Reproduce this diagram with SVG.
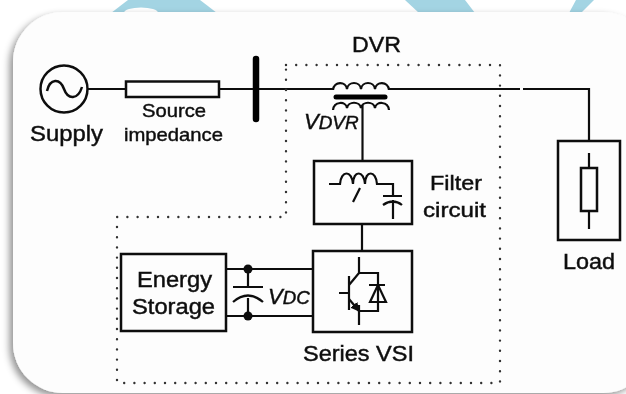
<svg xmlns="http://www.w3.org/2000/svg" width="626" height="394" viewBox="0 0 626 394">
<defs>
<filter id="shadow" x="-5%" y="-5%" width="110%" height="110%"><feDropShadow dx="-3.500" dy="3.500" stdDeviation="3.500" flood-color="#000" flood-opacity="0.42"/></filter>
<filter id="soft" x="-2%" y="-2%" width="104%" height="104%"><feGaussianBlur stdDeviation="0.5"/></filter>
<marker id="emit" viewBox="0 0 10 10" refX="9" refY="5" markerWidth="9" markerHeight="9" markerUnits="userSpaceOnUse" orient="auto"><path d="M0 0L10 5L0 10Z" fill="#111"/></marker>
</defs>
<style>
.w{fill:none;stroke:#111;stroke-width:2.200}
.b{fill:none;stroke:#111;stroke-width:2.500}
.d{fill:none;stroke:#333;stroke-width:2.400;stroke-linecap:round;stroke-dasharray:0 10.2}
text{font-family:"Liberation Sans",Arial,sans-serif;fill:#111;stroke:#111;stroke-width:0.45}
.i{font-style:italic}
</style>
<rect width="626" height="394" fill="#fff"/>
<g id="background" fill="#a3d4e3">
<path d="M128 0H200L217 13H111Z"/>
<path d="M405 0H465L475 13H419Z"/>
<path d="M576 0H594L581 13H569Z"/>
</g>
<ellipse cx="141" cy="13" rx="17" ry="5.500" fill="#fff"/>
<rect id="card" x="13" y="12" width="640" height="381" rx="50" fill="#fdfdfd" filter="url(#shadow)"/>
<g filter="url(#soft)">
<g id="connectors">
<path class="w" d="M88 89H126M219 89H333M389 89H520M523 89H589V141"/>
<path class="w" d="M362.500 105V161M362 224V251"/>
<path class="w" d="M226 269H313M226 316H313"/>
<path class="w" d="M248 269V287M248 298V316"/>
<path class="d" d="M286 65H500V383H117V217H286Z"/>
</g>
<g id="supply">
<circle class="b" cx="64" cy="89" r="23.500"/>
<path class="b" d="M47 91C50 78 60 78 64 89C68 100 78 100 82 87"/>
<text x="30" y="141" textLength="73" lengthAdjust="spacingAndGlyphs" style="font-size:22px">Supply</text>
</g>
<g id="source-impedance">
<rect class="b" x="126" y="81.500" width="93" height="15.500" fill="#fff"/>
<text x="142" y="117" textLength="64" lengthAdjust="spacingAndGlyphs" style="font-size:19px">Source</text>
<text x="124" y="141" textLength="99" lengthAdjust="spacingAndGlyphs" style="font-size:19px">impedance</text>
</g>
<g id="bus"><path d="M256 59V119" fill="none" stroke="#000" stroke-width="6.500" stroke-linecap="round"/></g>
<g id="dvr-label"><text x="352" y="52" textLength="49" lengthAdjust="spacingAndGlyphs" style="font-size:22px">DVR</text></g>
<g id="transformer">
<path class="w" d="M333 90C334 81 346 81 347 89C348 81 360 81 361 89C362 81 374 81 375 89C376 81 388 81 389 90"/>
<path d="M336 97H385" stroke="#000" stroke-width="5" stroke-linecap="round" fill="none"/>
<path class="w" d="M333 110C334 101 346 101 347 108C348 101 360 101 361 108C362 101 374 101 375 108C376 101 388 101 389 110"/>
<text class="i" x="304" y="129"><tspan style="font-size:22px">V</tspan><tspan style="font-size:19px" textLength="40" lengthAdjust="spacingAndGlyphs">DVR</tspan></text>
</g>
<g id="filter-circuit">
<rect class="b" x="314" y="161" width="98" height="63" fill="none"/>
<path class="w" d="M329 184H340C341 170 352 170 353 184C353 170 364 170 365 184C365 170 376 170 377 184H393V195"/>
<path class="w" d="M383 196H402M383 205Q393 198 402 205M393 200V219"/>
<path class="w" d="M360 188L353 202"/>
<text x="430" y="190" textLength="52" lengthAdjust="spacingAndGlyphs" style="font-size:21px">Filter</text>
<text x="423" y="217" textLength="63" lengthAdjust="spacingAndGlyphs" style="font-size:21px">circuit</text>
</g>
<g id="series-vsi">
<rect class="b" x="313" y="251" width="99" height="81" fill="none"/>
<path class="w" d="M359 257V273H378V311H359M359 305V325M339 293H349M349 276V310M349 285L359 273"/>
<path class="w" d="M349 299L359 311" marker-end="url(#emit)"/>
<path class="w" d="M369 285H385M378 285L370 302H386Z"/>
<text x="303" y="361" textLength="111" lengthAdjust="spacingAndGlyphs" style="font-size:22px">Series VSI</text>
</g>
<g id="energy-storage">
<rect class="b" x="121" y="254" width="105" height="77" fill="none"/>
<text x="137" y="287" textLength="75" lengthAdjust="spacingAndGlyphs" style="font-size:22px">Energy</text>
<text x="132" y="314" textLength="83" lengthAdjust="spacingAndGlyphs" style="font-size:22px">Storage</text>
</g>
<g id="dc-link">
<circle cx="248" cy="269" r="4.500" fill="#111"/>
<circle cx="248" cy="316" r="4.500" fill="#111"/>
<path class="w" d="M233 287H263M233 302Q248 289 263 302"/>
<text class="i" x="268" y="304"><tspan style="font-size:22px">V</tspan><tspan style="font-size:18px" textLength="27" lengthAdjust="spacingAndGlyphs">DC</tspan></text>
</g>
<g id="load">
<rect class="b" x="558" y="141" width="62" height="99" fill="none"/>
<rect class="b" x="581" y="168" width="16" height="43" fill="none"/>
<path class="w" d="M589 153V168M589 211V229"/>
<text x="563" y="269" textLength="52" lengthAdjust="spacingAndGlyphs" style="font-size:22px">Load</text>
</g>
</g>
</svg>
